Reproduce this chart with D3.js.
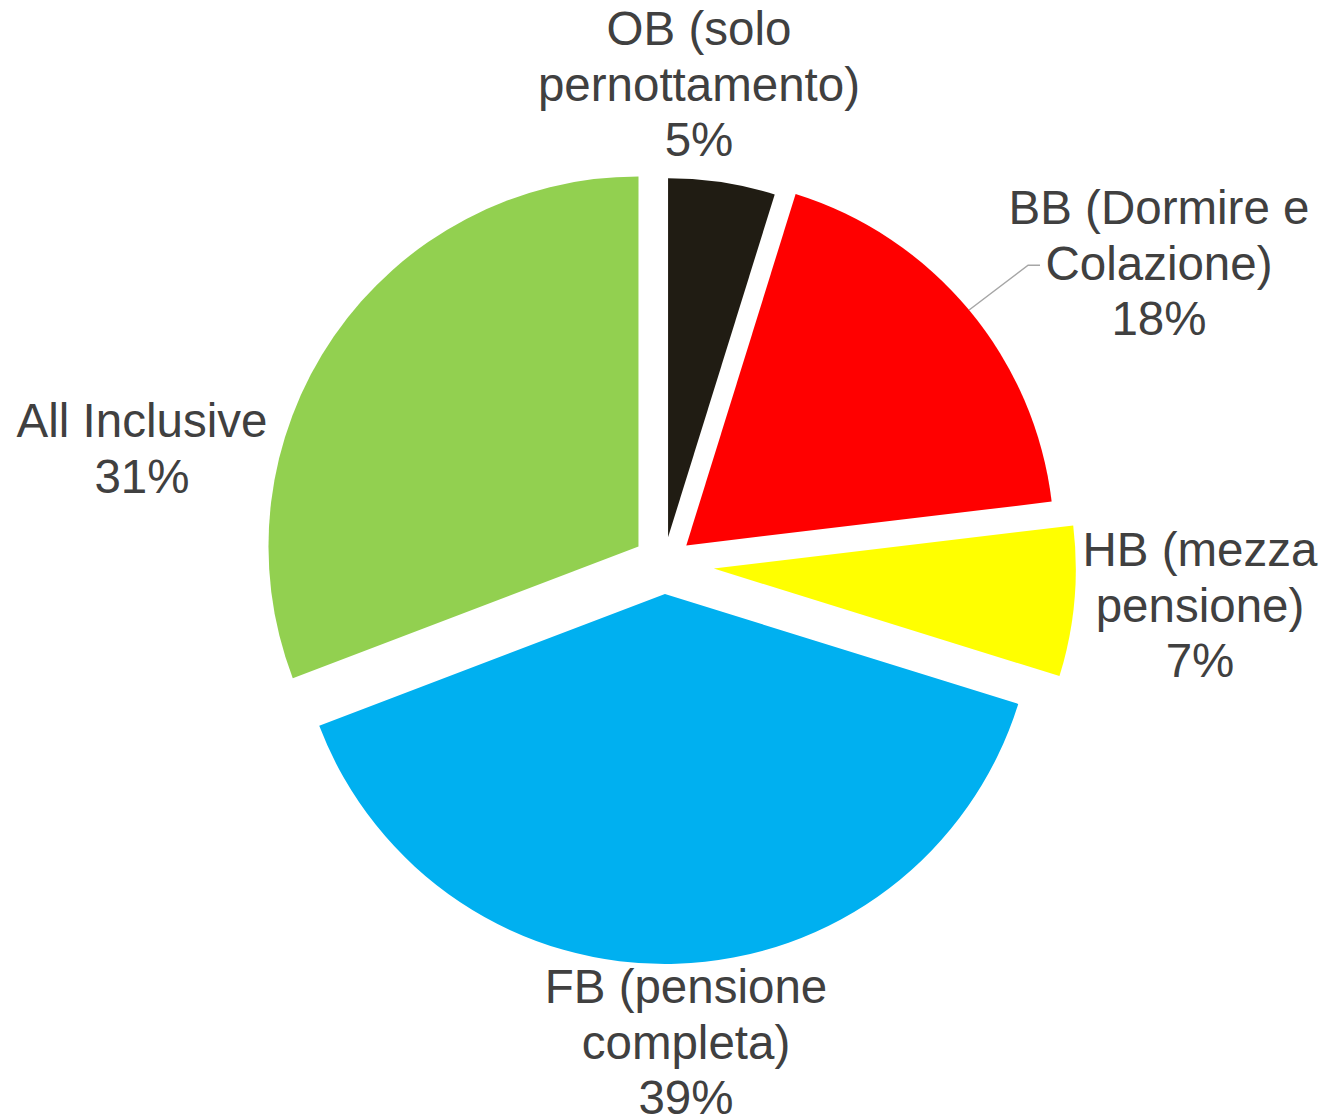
<!DOCTYPE html>
<html>
<head>
<meta charset="utf-8">
<script src="https://cdn.jsdelivr.net/npm/d3@7"></script>
<style>
  html, body { margin: 0; padding: 0; background: #ffffff; }
  svg { display: block; }
</style>
</head>
<body>
<div id="chart"></div>
<script>
// ---- data ----
const categories = [
  "OB (solo\npernottamento)",
  "BB (Dormire e\nColazione)",
  "HB (mezza\npensione)",
  "FB (pensione\ncompleta)",
  "All Inclusive"
];
const values = [4.8, 18.3, 6.7, 39.4, 30.8];

// ---- style / layout ----
const colors = ["#201c13", "#ff0000", "#ffff00", "#00b0f0", "#92d050"];
const explode = [27, 29, 50, 30, 31];
const radii = [359, 368, 362, 370, 370];
const labelAnchors = [
  [699, 45], [1159, 224], [1200, 566], [686, 1003], [142, 437]
];
const W = 1324, H = 1118;
const cx = 664, cy = 564;
const fontSize = 47.5, lineH = 55.5;

const svg = d3.select("#chart").append("svg")
  .attr("width", W).attr("height", H);

const total = d3.sum(values);
const pie = d3.pie().sort(null).value(d => d)(values);
const pct = d3.format(".0%");

const g = svg.append("g").attr("transform", `translate(${cx},${cy})`);

g.selectAll("path.slice").data(pie).join("path")
  .attr("class", "slice")
  .attr("fill", (d, i) => colors[i])
  .attr("d", (d, i) => d3.arc().innerRadius(0).outerRadius(radii[i])(d))
  .attr("transform", (d, i) => {
    const m = (d.startAngle + d.endAngle) / 2;
    return `translate(${Math.sin(m) * explode[i]},${-Math.cos(m) * explode[i]})`;
  });

// leader line for BB
{
  const i = 1, d = pie[i];
  const m = (d.startAngle + d.endAngle) / 2;
  const ox = Math.sin(m) * explode[i], oy = -Math.cos(m) * explode[i];
  const px = cx + ox + Math.sin(m) * radii[i];
  const py = cy + oy - Math.cos(m) * radii[i];
  const [lx, ly] = labelAnchors[i];
  const yy = ly + lineH - 0.3 * fontSize;
  svg.append("polyline")
    .attr("points", `${px},${py} ${px + 59},${yy} ${lx - 119},${yy}`)
    .attr("fill", "none").attr("stroke", "#a6a6a6").attr("stroke-width", 1.5);
}

const labels = svg.selectAll("text.lbl").data(pie).join("text")
  .attr("class", "lbl")
  .attr("text-anchor", "middle")
  .attr("font-family", "'Liberation Sans', Arial, sans-serif")
  .attr("font-size", fontSize)
  .attr("fill", "#404040");

labels.each(function (d, i) {
  const lines = categories[i].split("\n").concat([pct(d.value / total)]);
  const [x, y] = labelAnchors[i];
  d3.select(this).selectAll("tspan").data(lines).join("tspan")
    .attr("x", x)
    .attr("y", (t, k) => y + k * lineH)
    .text(t => t);
});
</script>
</body>
</html>
